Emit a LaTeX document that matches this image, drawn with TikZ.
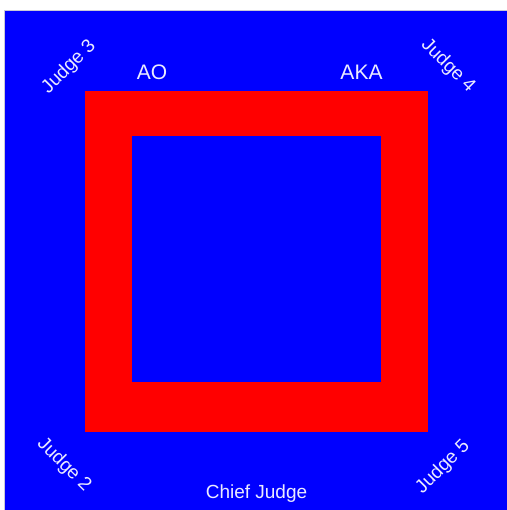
\documentclass[tikz,border=0pt]{standalone}
\usepackage{fontspec}
\setmainfont{Liberation Sans}
\definecolor{matblue}{RGB}{0,0,255}
\definecolor{matred}{RGB}{255,0,0}
\definecolor{lbl}{RGB}{235,235,255}
\definecolor{edge}{RGB}{200,200,215}
\begin{document}
\begin{tikzpicture}[x=1bp,y=-1bp,
  lab/.style={text=lbl,inner sep=0pt,font=\fontsize{19bp}{22bp}\selectfont},
  big/.style={text=lbl,inner sep=0pt,font=\fontsize{21bp}{24bp}\selectfont}]
\useasboundingbox (0,0) rectangle (507,510);
\fill[white] (0,0) rectangle (507,510);
\fill[edge] (4,10) rectangle (507,510);
\fill[matblue] (5,11) rectangle (507,510);
\fill[matred] (85,91) rectangle (428,432);
\fill[matblue] (132,136) rectangle (381,382);
\node[big,anchor=base] (ao) at (152,80) {AO};
\node[big,anchor=base] (aka) at (361.5,80) {AKA};
\node[lab,anchor=base] (chief) at (256.5,498) {Chief Judge};
\node[lab,rotate=45] (j3) at (69,67) {Judge 3};
\node[lab,rotate=-45] (j4) at (448,66) {Judge 4};
\node[lab,rotate=-45] (j2) at (64,465) {Judge 2};
\node[lab,rotate=45] (j5) at (443,467) {Judge 5};
\end{tikzpicture}
\end{document}
